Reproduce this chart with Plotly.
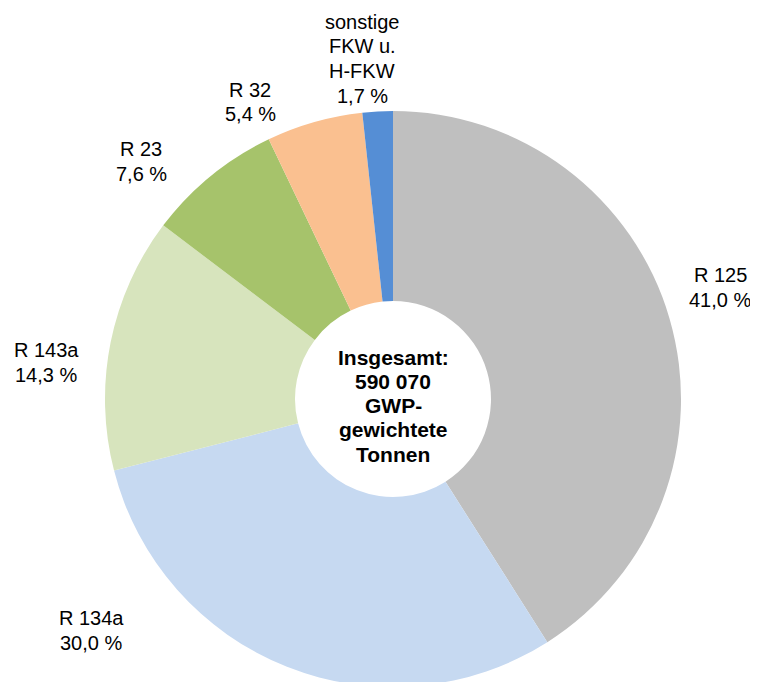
import plotly.graph_objects as go

# Data
labels = ["R 125", "R 134a", "R 143a", "R 23", "R 32", "sonstige FKW u. H-FKW"]
values = [41.0, 30.0, 14.3, 7.6, 5.4, 1.7]
label_lines = [
    ["R 125", "41,0 %"],
    ["R 134a", "30,0 %"],
    ["R 143a", "14,3 %"],
    ["R 23", "7,6 %"],
    ["R 32", "5,4 %"],
    ["sonstige", "FKW u.", "H-FKW", "1,7 %"],
]
center_lines = ["Insgesamt:", "590 070", "GWP-", "gewichtete", "Tonnen"]
colors = ["#BFBFBF", "#C6D9F1", "#D7E4BD", "#A6C36B", "#FAC090", "#558ED5"]

W, H = 758, 682
OFF = 8  # page body margin
FONT = "Liberation Sans, Arial, sans-serif"

# Target screen positions in pixels (center x, first-line center y)
label_pos = [(720, 275), (91, 618), (46, 350), (141, 149), (250, 90), (362, 22)]
PITCH = 24.5

CX, CY, R = 393 - OFF, 399 - OFF, 288

fig = go.Figure(go.Pie(
    labels=labels,
    values=values,
    sort=False,
    direction="clockwise",
    rotation=0,
    hole=98 / R,
    marker=dict(colors=colors, line=dict(width=0)),
    textinfo="none",
    hoverinfo="label+percent",
    domain=dict(x=[(CX - R) / W, (CX + R) / W],
                y=[(H - (CY + R)) / H, (H - (CY - R)) / H]),
))

annotations = []
for (px, py), lines in zip(label_pos, label_lines):
    for i, t in enumerate(lines):
        annotations.append(dict(
            x=(px - OFF) / W, y=1 - (py - OFF + i * PITCH) / H,
            xref="paper", yref="paper",
            text=t, showarrow=False, xanchor="center", yanchor="middle",
            font=dict(family=FONT, size=20, color="#000000"),
        ))

cy0 = 357
for i, t in enumerate(center_lines):
    annotations.append(dict(
        x=(393 - OFF) / W, y=1 - (cy0 - OFF + i * 24.3) / H,
        xref="paper", yref="paper",
        text="<b>" + t + "</b>", showarrow=False, xanchor="center", yanchor="middle",
        font=dict(family=FONT, size=21, color="#000000"),
    ))

fig.update_layout(
    width=W, height=H,
    margin=dict(l=0, r=0, t=0, b=0),
    paper_bgcolor="#FFFFFF",
    plot_bgcolor="#FFFFFF",
    showlegend=False,
    annotations=annotations,
)

fig.write_html("out.html")
